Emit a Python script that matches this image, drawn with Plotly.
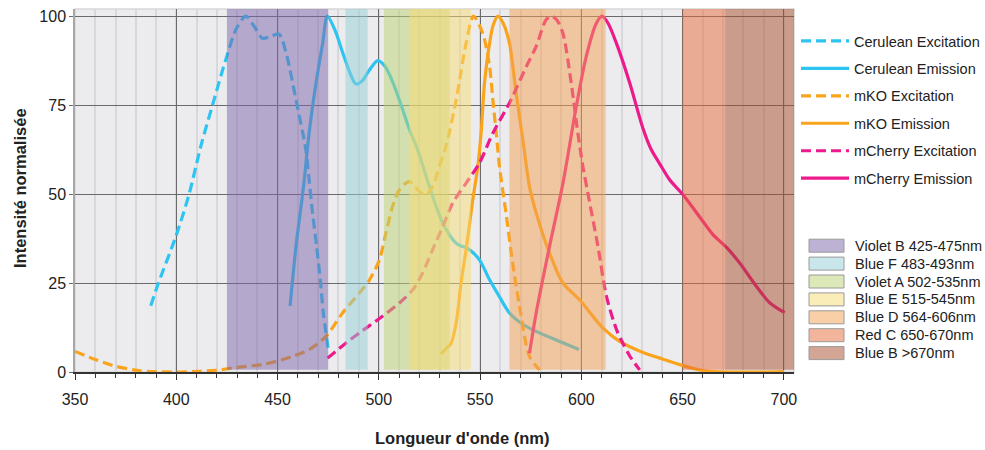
import plotly.graph_objects as go

# ---------------- data ----------------
cer_exc_x = [387.4, 391.2, 399.8, 406.3, 412.1, 417.9, 424.4, 429.7, 434.4, 438.6, 442.5, 446.5, 450.8, 454.5, 459.1, 464.0, 465.6, 467.3, 469.3, 471.1, 472.6, 473.9, 475.1]
cer_exc_y = [18.6, 25.0, 38.1, 49.9, 63.4, 75.0, 87.7, 96.5, 100.0, 97.0, 93.8, 94.3, 94.9, 89.0, 76.5, 62.4, 54.0, 44.7, 35.3, 25.9, 16.6, 11.0, 6.3]

cer_em_x = [456.2, 459.1, 461.6, 463.2, 465.6, 469.0, 472.3, 474.6, 478.4, 482.3, 485.8, 488.7, 491.8, 495.3, 499.5, 503.2, 507.2, 511.8, 515.2, 519.2, 525.0, 531.6, 538.2, 544.7, 549.7, 554.7, 559.5, 564.5, 570.9, 577.7, 588.8, 598.8]
cer_em_y = [18.6, 35.3, 46.5, 54.0, 67.2, 81.2, 92.4, 100.0, 96.0, 89.5, 84.0, 80.9, 81.8, 84.8, 87.5, 85.8, 81.0, 73.7, 68.0, 62.4, 52.1, 41.8, 36.2, 34.4, 31.5, 25.9, 21.2, 16.6, 13.5, 11.4, 8.7, 6.3]

mko_exc_x = [350.0, 360.0, 370.1, 381.6, 389.8, 399.8, 411.3, 419.7, 427.7, 434.6, 442.5, 449.5, 457.5, 465.6, 473.9, 482.1, 490.4, 495.4, 500.3, 503.5, 506.8, 510.2, 515.1, 520.1, 523.3, 526.6, 529.9, 533.2, 538.2, 543.1, 546.7, 551.3, 554.7, 556.3, 558.0, 559.6, 562.8, 566.1, 569.5, 574.4, 579.4]
mko_exc_y = [5.8, 3.5, 1.6, 0.4, 0.1, 0.0, 0.2, 0.5, 1.1, 1.6, 2.1, 3.0, 4.4, 6.3, 10.0, 16.6, 22.2, 25.9, 31.5, 39.0, 46.5, 51.2, 53.5, 50.7, 49.8, 52.1, 57.8, 63.5, 76.5, 92.4, 100.0, 95.2, 85.8, 76.5, 67.1, 57.7, 44.7, 30.6, 18.4, 4.4, 0.6]

mko_em_x = [530.7, 533.1, 535.7, 538.2, 540.6, 543.1, 546.4, 548.9, 550.5, 552.2, 554.7, 556.5, 558.8, 561.4, 564.5, 567.8, 571.1, 574.4, 577.7, 584.3, 590.9, 599.1, 610.6, 618.9, 630.4, 638.7, 650.2, 660.1, 665.0, 675.0, 690.0, 700.0]
mko_em_y = [5.1, 6.5, 8.1, 13.8, 25.0, 34.4, 48.4, 57.8, 67.2, 81.2, 92.4, 97.5, 100.0, 98.0, 92.4, 78.4, 65.3, 52.1, 44.7, 33.4, 25.0, 20.3, 12.4, 8.6, 5.5, 3.9, 1.8, 0.4, 0.1, 0.0, 0.0, 0.1]

mch_exc_x = [474.7, 483.7, 490.4, 499.5, 510.2, 516.8, 521.6, 526.6, 531.6, 536.5, 543.1, 549.7, 556.3, 564.5, 572.8, 577.7, 582.6, 585.3, 587.8, 590.9, 595.0, 598.3, 600.8, 603.2, 608.2, 612.3, 617.3, 620.5, 623.9, 628.8]
mch_exc_y = [3.9, 8.1, 11.0, 14.7, 19.4, 23.1, 27.8, 34.4, 40.9, 47.5, 53.1, 58.7, 67.1, 75.6, 85.8, 91.5, 99.0, 100.0, 99.0, 95.2, 81.2, 67.1, 57.7, 50.3, 35.3, 21.5, 12.0, 8.1, 4.5, 0.6]

mch_em_x = [574.4, 577.7, 584.3, 590.9, 597.5, 602.4, 607.4, 610.2, 613.2, 617.3, 623.9, 630.4, 634.5, 638.7, 643.6, 650.2, 660.1, 665.0, 671.7, 678.2, 686.5, 693.1, 700.4]
mch_em_y = [5.3, 16.6, 35.3, 53.0, 74.6, 88.6, 98.0, 100.0, 98.0, 92.4, 81.2, 68.5, 62.5, 58.5, 54.0, 49.8, 42.3, 38.6, 35.0, 30.6, 24.0, 19.4, 16.7]

series_names = ["Cerulean Excitation", "Cerulean Emission", "mKO Excitation",
                "mKO Emission", "mCherry Excitation", "mCherry Emission"]

band_labels = ["Violet B 425-475nm", "Blue F 483-493nm", "Violet A 502-535nm",
               "Blue E 515-545nm", "Blue D 564-606nm", "Red C 650-670nm", "Blue B >670nm"]
band_start = [425, 483.5, 502.5, 515, 564.5, 650, 671]
band_end = [475, 494.5, 535, 545.5, 612, 671, 705]

x_ticks = [350, 400, 450, 500, 550, 600, 650, 700]
y_ticks = [0, 25, 50, 75, 100]

# ---------------- styles ----------------
CER = "#2ec4f1"
MKO = "#f9a41c"
MCH = "#ec1a8b"
band_colors = ["rgba(124,100,169,0.5)", "rgba(148,208,213,0.5)", "rgba(188,210,113,0.5)",
               "rgba(248,220,113,0.5)", "rgba(244,160,81,0.5)", "rgba(232,106,57,0.5)",
               "rgba(166,76,41,0.5)"]
FONT = "Liberation Sans, Arial, sans-serif"
DASH = "10px,5px"

W, H = 985, 450
ML, MR, MT, MB = 75, 191, 9, 78
PW, PH = W - ML - MR, H - MT - MB


def px2paper(px, py):
    return (px - ML) / PW, (H - MB - py) / PH


fig = go.Figure()

curves = [
    (cer_exc_x, cer_exc_y, CER, DASH),
    (cer_em_x, cer_em_y, CER, "solid"),
    (mko_exc_x, mko_exc_y, MKO, DASH),
    (mko_em_x, mko_em_y, MKO, "solid"),
    (mch_exc_x, mch_exc_y, MCH, DASH),
    (mch_em_x, mch_em_y, MCH, "solid"),
]
for i, (xs, ys, col, dash) in enumerate(curves):
    fig.add_trace(go.Scatter(
        x=xs, y=ys, mode="lines", name=series_names[i], legendgroup=f"g{i}",
        line=dict(color=col, width=3.2, dash=dash, shape="spline", smoothing=0.8),
        cliponaxis=True,
    ))

# spectral bands (drawn above curves, semi-transparent)
for i in range(len(band_labels)):
    fig.add_shape(type="rect", xref="x", yref="paper",
                  x0=band_start[i], x1=band_end[i], y0=0.006, y1=1,
                  fillcolor=band_colors[i], line=dict(width=0), layer="above")

# plot border (light)
fig.add_shape(type="rect", xref="paper", yref="paper", x0=0, x1=1, y0=0, y1=1,
              line=dict(color="#d6d6d6", width=1.5), layer="below")

# manual legend for bands
sw_x0, sw_x1, row0, dy = 809, 844, 245.7, 17.9
for i, lab in enumerate(band_labels):
    cy = row0 + i * dy
    ax0, ay0 = px2paper(sw_x0, cy + 6.5)
    ax1, ay1 = px2paper(sw_x1, cy - 6.5)
    fig.add_shape(type="rect", xref="paper", yref="paper", x0=ax0, x1=ax1, y0=ay0, y1=ay1,
                  fillcolor=band_colors[i], line=dict(color="#9a9a9a", width=1))
    tx, ty = px2paper(853, cy)
    fig.add_annotation(xref="paper", yref="paper", x=tx, y=ty, text=lab, showarrow=False,
                       xanchor="left", yanchor="middle",
                       font=dict(family=FONT, size=14.5, color="#222"))

# axis titles
tx, ty = px2paper(20, 188)
fig.add_annotation(xref="paper", yref="paper", x=tx, y=ty, text="<b>Intensité normalisée</b>",
                   textangle=-90, showarrow=False, xanchor="center", yanchor="middle",
                   font=dict(family=FONT, size=16.5, color="#222"))
tx, ty = px2paper(462, 438)
fig.add_annotation(xref="paper", yref="paper", x=tx, y=ty, text="<b>Longueur d'onde (nm)</b>",
                   showarrow=False, xanchor="center", yanchor="middle",
                   font=dict(family=FONT, size=16.5, color="#222"))

lx, ly = px2paper(796, 25)
fig.update_layout(
    width=W, height=H,
    margin=dict(l=ML, r=MR, t=MT, b=MB, pad=0, autoexpand=False),
    paper_bgcolor="white", plot_bgcolor="#ececef",
    font=dict(family=FONT, size=16, color="#222"),
    legend=dict(x=lx, y=ly, xanchor="left", yanchor="top", bgcolor="rgba(0,0,0,0)",
                font=dict(family=FONT, size=14.5, color="#222"), itemwidth=48,
                tracegroupgap=5.6, traceorder="grouped"),
    showlegend=True,
    xaxis=dict(range=[350, 705], tickvals=x_ticks, ticks="outside", ticklen=6, tickwidth=1,
               tickcolor="#333", showline=True, linecolor="#333", linewidth=1.5,
               showgrid=True, gridcolor="#6a6a6a", gridwidth=1, zeroline=False,
               minor=dict(dtick=10, tick0=350, showgrid=True, gridcolor="#d8d8dc", gridwidth=1.5,
                          ticks="outside", ticklen=4, tickcolor="#333"),
               ticklabelstandoff=6, tickfont=dict(size=16, color="#222")),
    yaxis=dict(range=[0, 102], tickvals=y_ticks, ticks="outside", ticklen=4, tickcolor="#6a6a6a",
               showline=True, linecolor="#a8a8a8", linewidth=1.5,
               showgrid=True, gridcolor="#6a6a6a", gridwidth=1, zeroline=False,
               ticklabelstandoff=0, tickfont=dict(size=16, color="#222")),
)

fig.write_html("out.html", config={"displayModeBar": False},
               post_script="document.body.style.margin='0px';document.body.style.overflow='hidden';")
